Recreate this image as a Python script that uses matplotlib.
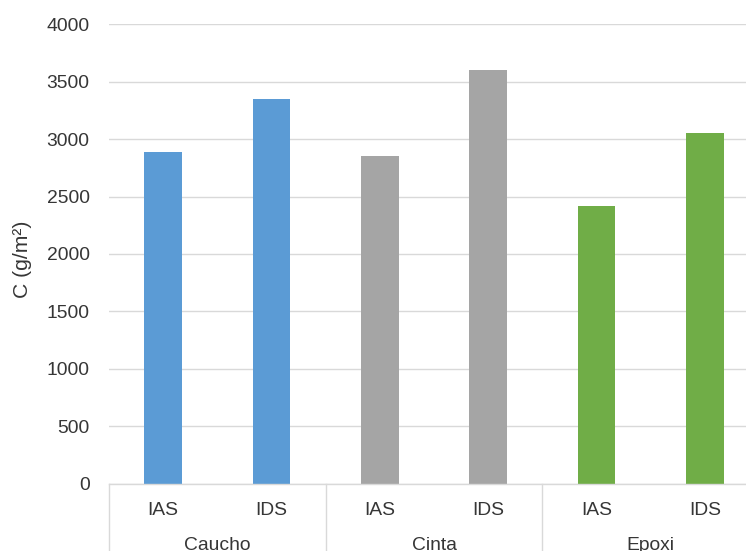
import matplotlib
matplotlib.use("Agg")
import matplotlib.pyplot as plt
from matplotlib.transforms import blended_transform_factory

# Data
groups = ["Caucho", "Cinta", "Epoxi"]
subgroups = ["IAS", "IDS"]
caucho = [2885, 3352]
cinta = [2850, 3600]
epoxi = [2420, 3056]
group_colors = ["#5B9BD5", "#A5A5A5", "#70AD47"]
y_ticks = [0, 500, 1000, 1500, 2000, 2500, 3000, 3500, 4000]
y_label = "C (g/m²)"

plt.rcParams["font.family"] = ["Liberation Sans", "DejaVu Sans"]
text_color = "#363636"
grid_color = "#D9D9D9"
fs = 13.9

W, H = 746, 551
fig = plt.figure(figsize=(W / 100, H / 100), dpi=100)
# plot area in pixels: x 109..759 (last group runs past the right edge), y 24.3..483.5
left, right, top, bottom = 109, 759, 24.3, 483.5
ax = fig.add_axes([left / W, (H - bottom) / H, (right - left) / W, (bottom - top) / H])

values = [caucho, cinta, epoxi]
pos = 0
for g, vals in enumerate(values):
    xs = [pos + i for i in range(len(vals))]
    ax.bar(xs, vals, width=0.35, color=group_colors[g], zorder=3)
    pos += len(vals)
n = pos

ax.set_xlim(-0.5, n - 0.5)
ax.set_ylim(0, 4000)
ax.set_yticks(y_ticks)
ax.set_yticklabels([str(t) for t in y_ticks])
ax.tick_params(axis="y", length=0, pad=14.0, labelsize=fs, labelcolor=text_color)
ax.set_xticks([])
ax.grid(axis="y", color=grid_color, linewidth=1.0, zorder=0)
for s in ["top", "right", "left"]:
    ax.spines[s].set_visible(False)
ax.spines["bottom"].set_color(grid_color)
ax.spines["bottom"].set_linewidth(1.0)
ax.spines["bottom"].set_zorder(4)

trans = blended_transform_factory(ax.transData, ax.transAxes)
ax_h = bottom - top

# Two-level category axis
pos = 0
for g, name in enumerate(groups):
    k = len(values[g])
    for i in range(k):
        ax.text(pos + i, -31.5 / ax_h, subgroups[i], transform=trans, ha="center",
                va="baseline", fontsize=fs, color=text_color)
    ax.text(pos + (k - 1) / 2, -66.0 / ax_h, name, transform=trans, ha="center",
            va="baseline", fontsize=fs, color=text_color)
    pos += k

# Group separators below the axis
sep = [-0.5]
pos = 0
for vals in values:
    pos += len(vals)
    sep.append(pos - 0.5)
for x in sep:
    ax.plot([x, x], [0, -0.2], transform=trans, color=grid_color, linewidth=1.0,
            clip_on=False, zorder=4)

fig.text(23 / W, 1 - 259 / H, y_label, rotation=90, ha="center", va="center",
         fontsize=15.2, color=text_color)

fig.savefig("out.png", dpi=100)
